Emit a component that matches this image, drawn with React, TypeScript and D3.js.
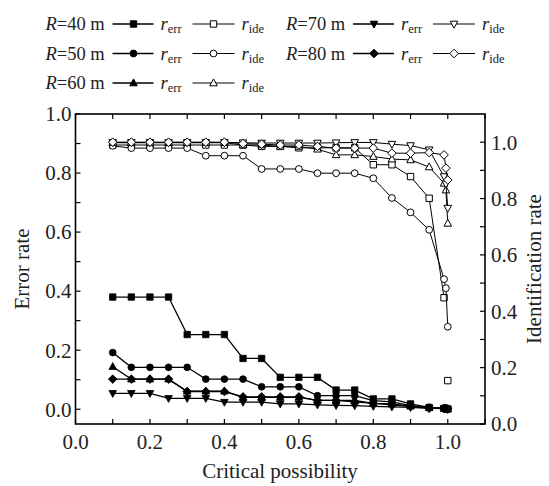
import React from 'react';
import * as d3 from 'd3';

const xValues = [0.1, 0.15, 0.2, 0.25, 0.3, 0.35, 0.4, 0.45, 0.5, 0.55, 0.6, 0.65, 0.7, 0.75, 0.8, 0.85, 0.9, 0.95, 0.99, 0.995, 1.0];

const radii = ['40', '50', '60', '70', '80'];
const shapes = ['square', 'circle', 'triUp', 'triDown', 'diamond'];

const errR40 = [0.38, 0.38, 0.38, 0.38, 0.253, 0.253, 0.253, 0.172, 0.172, 0.108, 0.108, 0.108, 0.065, 0.065, 0.035, 0.035, 0.018, 0.006, 0.003, 0.002, 0.001];
const errR50 = [0.192, 0.142, 0.142, 0.142, 0.142, 0.102, 0.102, 0.102, 0.076, 0.076, 0.076, 0.046, 0.046, 0.046, 0.029, 0.025, 0.012, 0.005, 0.003, 0.002, 0.001];
const errR60 = [0.144, 0.102, 0.102, 0.102, 0.061, 0.061, 0.061, 0.04, 0.04, 0.04, 0.04, 0.03, 0.03, 0.03, 0.02, 0.018, 0.01, 0.005, 0.003, 0.002, 0.001];
const errR70 = [0.054, 0.054, 0.054, 0.037, 0.037, 0.037, 0.024, 0.024, 0.024, 0.018, 0.018, 0.015, 0.013, 0.012, 0.01, 0.008, 0.006, 0.003, 0.002, 0.001, 0.0];
const errR80 = [0.102, 0.102, 0.102, 0.102, 0.06, 0.06, 0.06, 0.042, 0.042, 0.042, 0.042, 0.03, 0.03, 0.025, 0.02, 0.015, 0.01, 0.004, 0.003, 0.002, 0.001];

const ideR40 = [0.99, 0.99, 0.99, 0.99, 0.99, 0.99, 0.99, 0.99, 0.985, 0.985, 0.98, 0.98, 0.98, 0.98, 0.92, 0.92, 0.878, 0.801, 0.448, null, 0.154];
const ideR50 = [0.987, 0.979, 0.979, 0.979, 0.979, 0.952, 0.952, 0.952, 0.905, 0.905, 0.905, 0.89, 0.89, 0.89, 0.872, 0.802, 0.751, 0.689, 0.514, 0.482, 0.345];
const ideR60 = [0.998, 0.998, 0.998, 0.998, 0.998, 0.998, 0.998, 0.99, 0.99, 0.985, 0.985, 0.975, 0.955, 0.955, 0.949, 0.94, 0.937, 0.912, 0.854, 0.83, 0.712];
const ideR70 = [0.999, 0.999, 0.999, 0.999, 0.999, 0.999, 0.999, 0.998, 0.997, 0.997, 0.997, 0.997, 0.998, 0.999, 0.999, 0.993, 0.988, 0.973, 0.878, 0.852, 0.766];
const ideR80 = [1.0, 1.0, 1.0, 1.0, 1.0, 1.0, 1.0, 0.995, 0.993, 0.99, 0.99, 0.985, 0.979, 0.979, 0.979, 0.961, 0.961, 0.963, 0.955, 0.908, 0.866];

const errSeries = [errR40, errR50, errR60, errR70, errR80];
const ideSeries = [ideR40, ideR50, ideR60, ideR70, ideR80];

const xTicks = [0, 0.1, 0.2, 0.3, 0.4, 0.5, 0.6, 0.7, 0.8, 0.9, 1.0, 1.1];
const xTickLabels = ['0.0', '0.2', '0.4', '0.6', '0.8', '1.0'];
const yTicks = [0, 0.1, 0.2, 0.3, 0.4, 0.5, 0.6, 0.7, 0.8, 0.9, 1.0];
const yTickLabels = ['0.0', '0.2', '0.4', '0.6', '0.8', '1.0'];

const W = 549;
const H = 486;
const FONT = "'Liberation Serif', 'DejaVu Serif', 'Times New Roman', Times, serif";
const TXT = { fontFamily: FONT };

function markerPath(shape: string): string {
  switch (shape) {
    case 'square':
      return 'M-3.2,-3.2H3.2V3.2H-3.2Z';
    case 'circle':
      return 'M3.4,0A3.4,3.4 0 1,1 -3.4,0A3.4,3.4 0 1,1 3.4,0Z';
    case 'triUp':
      return 'M0,-4.1L3.8,2.8L-3.8,2.8Z';
    case 'triDown':
      return 'M0,4.1L3.8,-2.8L-3.8,-2.8Z';
    case 'diamond':
    default:
      return 'M0,-4.3L4.3,0L0,4.3L-4.3,0Z';
  }
}

export default function App() {
  const left = 75.5, right = 485, top = 114, bottom = 424;
  const x = d3.scaleLinear().domain([0, 1.1]).range([left, right]);
  const yL = d3.scaleLinear().domain([-0.05, 1.0]).range([bottom, top]);
  const yR = d3.scaleLinear().domain([0, 1.1]).range([bottom, top]);

  const lineGen = (ys: (number | null)[], yScale: d3.ScaleLinear<number, number>) =>
    d3.line<[number, number | null]>()
      .defined((d) => d[1] !== null)
      .x((d) => x(d[0]))
      .y((d) => yScale(d[1] as number))(xValues.map((xv, i) => [xv, ys[i]]));

  const tickLen = 5;

  const legendRows = [
    { col: 0, row: 0, i: 0 },
    { col: 0, row: 1, i: 1 },
    { col: 0, row: 2, i: 2 },
    { col: 1, row: 0, i: 3 },
    { col: 1, row: 1, i: 4 },
  ];
  const colX = [45.5, 286];
  const rowY = [30, 59.5, 89];

  return (
    <svg width={W} height={H} style={{ position: 'absolute', left: 0, top: 0, background: '#fff', fontFamily: FONT }}>
      <rect x={0} y={0} width={W} height={H} fill="#fff" />

      {/* Legend */}
      {legendRows.map(({ col, row, i }) => {
        const bx = colX[col];
        const by = rowY[row];
        const lineY = by - 6;
        return (
          <g key={'leg' + i}>
            <text x={bx} y={by} fontSize={18.5} fill="#222" style={TXT}>
              <tspan fontStyle="italic">R</tspan>
              <tspan>{'=' + radii[i] + ' m'}</tspan>
            </text>
            <line x1={bx + 67} x2={bx + 108} y1={lineY} y2={lineY} stroke="#000" strokeWidth={1.3} />
            <path d={markerPath(shapes[i])} transform={`translate(${bx + 88},${lineY})`} fill="#000" stroke="#000" strokeWidth={1} />
            <text x={bx + 115} y={by} fontSize={18.5} fill="#222" style={TXT}>
              <tspan fontStyle="italic">r</tspan>
              <tspan fontSize={12.5} dy={3}>err</tspan>
            </text>
            <line x1={bx + 147} x2={bx + 189} y1={lineY} y2={lineY} stroke="#000" strokeWidth={1} />
            <path d={markerPath(shapes[i])} transform={`translate(${bx + 168},${lineY})`} fill="#fff" stroke="#000" strokeWidth={1} />
            <text x={bx + 196} y={by} fontSize={18.5} fill="#222" style={TXT}>
              <tspan fontStyle="italic">r</tspan>
              <tspan fontSize={12.5} dy={3}>ide</tspan>
            </text>
          </g>
        );
      })}

      {/* Ticks */}
      {xTicks.map((t) => (
        <g key={'xt' + t}>
          <line x1={x(t)} x2={x(t)} y1={bottom} y2={bottom - tickLen} stroke="#000" strokeWidth={1.2} />
          <line x1={x(t)} x2={x(t)} y1={top} y2={top + tickLen} stroke="#000" strokeWidth={1.2} />
        </g>
      ))}
      {xTickLabels.map((l) => (
        <text key={'xl' + l} x={x(+l)} y={449} fontSize={21} textAnchor="middle" fill="#222" style={TXT}>{l}</text>
      ))}
      {yTicks.map((t) => (
        <g key={'yt' + t}>
          <line x1={left} x2={left + tickLen} y1={yL(t)} y2={yL(t)} stroke="#000" strokeWidth={1.2} />
          <line x1={right} x2={right - tickLen} y1={yR(t)} y2={yR(t)} stroke="#000" strokeWidth={1.2} />
        </g>
      ))}
      {yTickLabels.map((l) => (
        <g key={'yl' + l}>
          <text x={left - 4} y={yL(+l)} dy="0.35em" fontSize={21} textAnchor="end" fill="#222" style={TXT}>{l}</text>
          <text x={right + 6} y={yR(+l)} dy="0.35em" fontSize={21} textAnchor="start" fill="#222" style={TXT}>{l}</text>
        </g>
      ))}

      {/* Frame */}
      <rect x={left} y={top} width={right - left} height={bottom - top} fill="none" stroke="#000" strokeWidth={1.6} />

      {/* Ide series (open markers) */}
      {ideSeries.map((s, si) => (
        <g key={'ide' + si}>
          <path d={lineGen(s, yR) || ''} fill="none" stroke="#000" strokeWidth={1} />
          {xValues.map((xv, i) =>
            s[i] === null ? null : (
              <path key={i} d={markerPath(shapes[si])} transform={`translate(${x(xv)},${yR(s[i] as number)})`} fill="#fff" stroke="#000" strokeWidth={1} />
            )
          )}
        </g>
      ))}

      {/* Err series (filled markers) */}
      {errSeries.map((s, si) => (
        <g key={'err' + si}>
          <path d={lineGen(s, yL) || ''} fill="none" stroke="#000" strokeWidth={1.3} />
          {xValues.map((xv, i) => (
            <path key={i} d={markerPath(shapes[si])} transform={`translate(${x(xv)},${yL(s[i] as number)})`} fill="#000" stroke="#000" strokeWidth={0.8} />
          ))}
        </g>
      ))}

      {/* Axis titles */}
      <text x={280} y={478} fontSize={21} textAnchor="middle" fill="#222" style={TXT}>Critical possibility</text>
      <text transform={`translate(29,${(top + bottom) / 2}) rotate(-90)`} fontSize={21} textAnchor="middle" fill="#222" style={TXT}>Error rate</text>
      <text transform={`translate(541,${(top + bottom) / 2}) rotate(-90)`} fontSize={21} textAnchor="middle" fill="#222" style={TXT}>Identification rate</text>
    </svg>
  );
}
